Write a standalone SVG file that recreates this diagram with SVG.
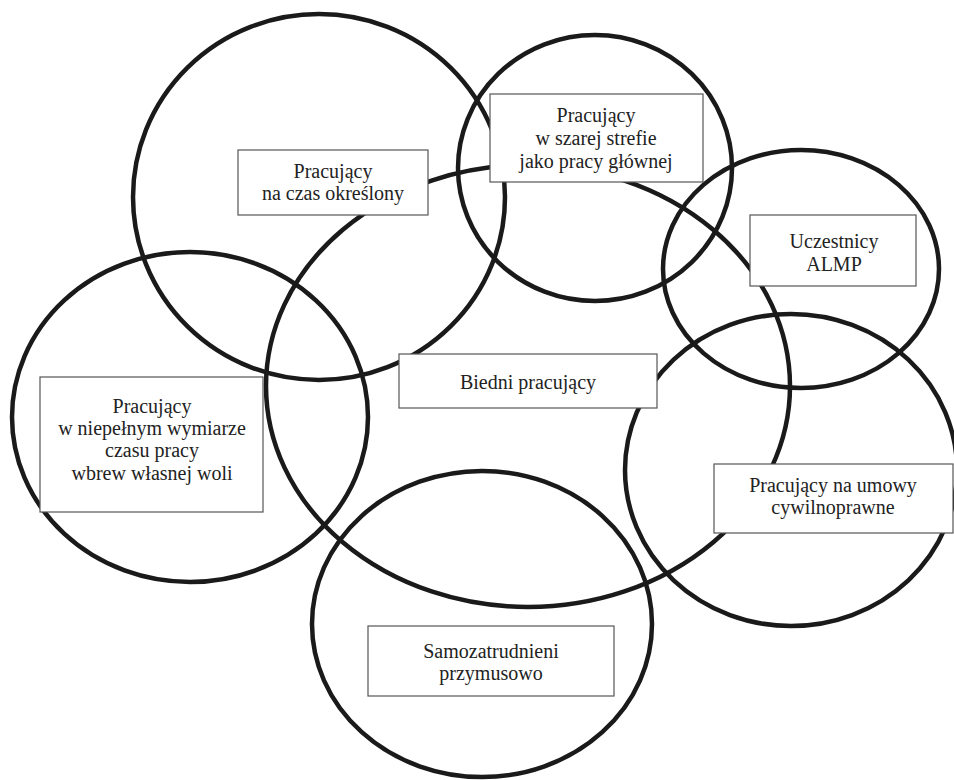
<svg xmlns="http://www.w3.org/2000/svg" width="954" height="780" viewBox="0 0 954 780">
<style>
.c{fill:none;stroke:#1a1a1a;stroke-width:4.5}
.b{fill:#fff;stroke:#555;stroke-width:1.2}
text{font-size:20px;fill:#222;text-anchor:middle}
</style>
<rect width="954" height="780" fill="#fff"/>
<g id="sets">
<ellipse id="e-biedni" class="c" cx="528" cy="386" rx="262" ry="221"/>
<ellipse id="e-czas" class="c" cx="319" cy="197" rx="186" ry="183"/>
<ellipse id="e-szara" class="c" cx="595" cy="168" rx="137" ry="133"/>
<ellipse id="e-almp" class="c" cx="801" cy="269" rx="138" ry="119"/>
<ellipse id="e-niepelny" class="c" cx="190" cy="417" rx="178" ry="165"/>
<ellipse id="e-cywil" class="c" cx="791" cy="470" rx="166" ry="156"/>
<ellipse id="e-samo" class="c" cx="482" cy="624" rx="170" ry="153"/>
</g>
<g font-family="'Liberation Serif', 'DejaVu Serif', serif">
<g id="czas">
<rect class="b" x="238" y="150" width="190" height="65"/>
<text x="333" y="178">Pracujący</text>
<text x="333" y="200">na czas określony</text>
</g>
<g id="szara">
<rect class="b" x="490" y="94" width="213" height="88"/>
<text x="596" y="122">Pracujący</text>
<text x="596" y="145">w szarej strefie</text>
<text x="596" y="168">jako pracy głównej</text>
</g>
<g id="almp">
<rect class="b" x="750" y="215" width="166" height="71"/>
<text x="834" y="248">Uczestnicy</text>
<text x="834" y="271">ALMP</text>
</g>
<g id="biedni">
<rect class="b" x="399" y="354" width="258" height="54"/>
<text x="528" y="389">Biedni pracujący</text>
</g>
<g id="niepelny">
<rect class="b" x="40" y="377" width="223" height="135"/>
<text x="152" y="413">Pracujący</text>
<text x="152" y="435">w niepełnym wymiarze</text>
<text x="152" y="457">czasu pracy</text>
<text x="152" y="480">wbrew własnej woli</text>
</g>
<g id="cywil">
<rect class="b" x="714" y="464" width="239" height="69"/>
<text x="833" y="492">Pracujący na umowy</text>
<text x="833" y="514">cywilnoprawne</text>
</g>
<g id="samo">
<rect class="b" x="368" y="626" width="246" height="70"/>
<text x="491" y="658">Samozatrudnieni</text>
<text x="491" y="680">przymusowo</text>
</g>
</g>
</svg>
